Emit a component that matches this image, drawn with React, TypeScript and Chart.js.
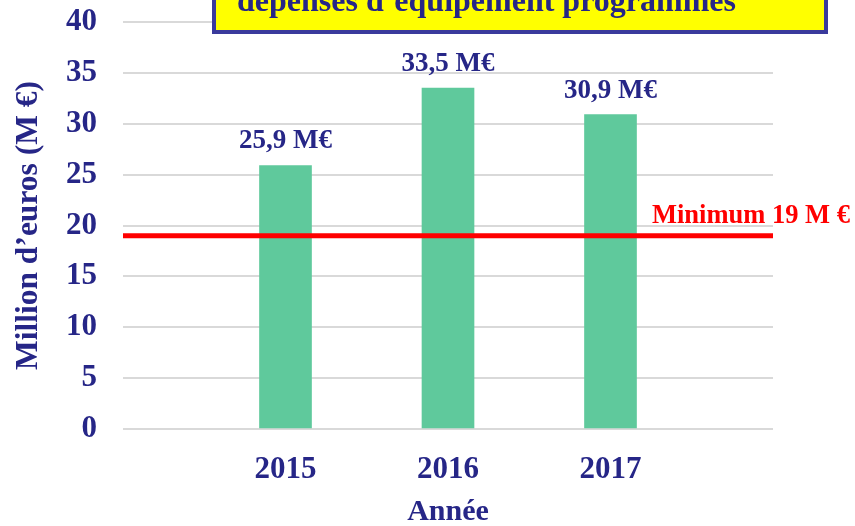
import React, { useEffect, useRef } from 'react';
import { Chart, registerables } from 'chart.js';

Chart.register(...registerables);

const categories = ['', '2015', '2016', '2017', ''];
const depenses: (number | null)[] = [null, 25.9, 33.5, 30.9, null];
const depenseLabels = ['', '25,9 M€', '33,5 M€', '30,9 M€', ''];
const minimumValue = 19;
const minimumSeries = [19, 19, 19, 19, 19];
const minimumLabel = 'Minimum 19 M €';
const titleText = 'dépenses d’équipement programmes';
const yAxisTitle = 'Million d’euros (M €)';
const xAxisTitle = 'Année';

const NAVY = '#262687';
const BORDER_NAVY = '#3a3a9c';
const GREEN = '#5fc99c';
const RED = '#ff0000';
const GRID = '#d9d9d9';
const FONT = '"Liberation Serif", "Times New Roman", serif';

const overlayPlugin = {
  id: 'overlay',
  afterDraw(chart: any) {
    const ctx = chart.ctx;
    const xs = chart.scales.x;
    const ys = chart.scales.y;
    ctx.save();
    // data labels
    const meta = chart.getDatasetMeta(1);
    ctx.font = `bold 27px ${FONT}`;
    ctx.fillStyle = NAVY;
    ctx.textAlign = 'center';
    ctx.textBaseline = 'alphabetic';
    meta.data.forEach((bar: any, i: number) => {
      if (depenses[i] == null) return;
      ctx.fillText(depenseLabels[i], bar.x, bar.y - 17);
    });
    // minimum label
    ctx.fillStyle = RED;
    ctx.textAlign = 'left';
    ctx.font = `bold 26.5px ${FONT}`;
    ctx.fillText(minimumLabel, xs.getPixelForValue(4) - 121, ys.getPixelForValue(minimumValue) - 13);
    // title box
    ctx.fillStyle = '#ffff00';
    ctx.fillRect(214, -40, 612, 72);
    ctx.strokeStyle = BORDER_NAVY;
    ctx.lineWidth = 4;
    ctx.strokeRect(214, -40, 612, 72);
    ctx.fillStyle = NAVY;
    ctx.font = `bold 32px ${FONT}`;
    ctx.textAlign = 'left';
    ctx.fillText(titleText, 237, 11);
    ctx.restore();
  },
};

export default function App() {
  const ref = useRef<HTMLCanvasElement>(null);
  useEffect(() => {
    if (!ref.current) return;
    const chart = new Chart(ref.current, {
      type: 'bar',
      data: {
        labels: categories,
        datasets: [
          {
            type: 'line',
            label: 'Minimum',
            data: minimumSeries,
            borderColor: RED,
            borderWidth: 5,
            pointRadius: 0,
            order: 1,
          } as any,
          {
            type: 'bar',
            label: 'Dépenses',
            data: depenses,
            backgroundColor: GREEN,
            barThickness: 52,
            order: 2,
          },
        ],
      },
      options: {
        animation: false,
        responsive: false,
        maintainAspectRatio: false,
        layout: { padding: { top: 0, right: 82, left: 0, bottom: 0 } },
        plugins: { legend: { display: false }, tooltip: { enabled: false }, title: { display: false } },
        scales: {
          x: {
            offset: false,
            grid: { display: false, drawTicks: false },
            border: { display: false },
            ticks: {
              color: NAVY,
              font: { family: FONT, size: 31, weight: 'bold' },
              padding: 22,
              maxRotation: 0,
              autoSkip: false,
            },
            title: {
              display: true,
              text: xAxisTitle,
              color: NAVY,
              font: { family: FONT, size: 30, weight: 'bold' },
              padding: { top: 8, bottom: -4 },
            },
            afterFit: (axis: any) => { axis.height = 97; },
          },
          y: {
            min: 0,
            max: 40,
            grid: { color: GRID, lineWidth: 2, drawTicks: false },
            border: { display: false },
            ticks: {
              stepSize: 5,
              color: NAVY,
              font: { family: FONT, size: 31, weight: 'bold' },
              padding: 26,
            },
            title: {
              display: true,
              text: yAxisTitle,
              color: NAVY,
              font: { family: FONT, size: 31.5, weight: 'bold' },
              padding: { top: 10, bottom: 0 },
            },
            afterFit: (axis: any) => {
              axis.width = 123;
              axis.paddingTop = 22;
              axis.paddingBottom = 0;
            },
          },
        },
      },
      plugins: [overlayPlugin],
    });
    return () => chart.destroy();
  }, []);
  return (
    <div style={{ position: 'fixed', left: 0, top: 0, width: 855, height: 526, background: '#fff' }}>
      <canvas ref={ref} width={855} height={526} style={{ width: 855, height: 526 }} />
    </div>
  );
}
